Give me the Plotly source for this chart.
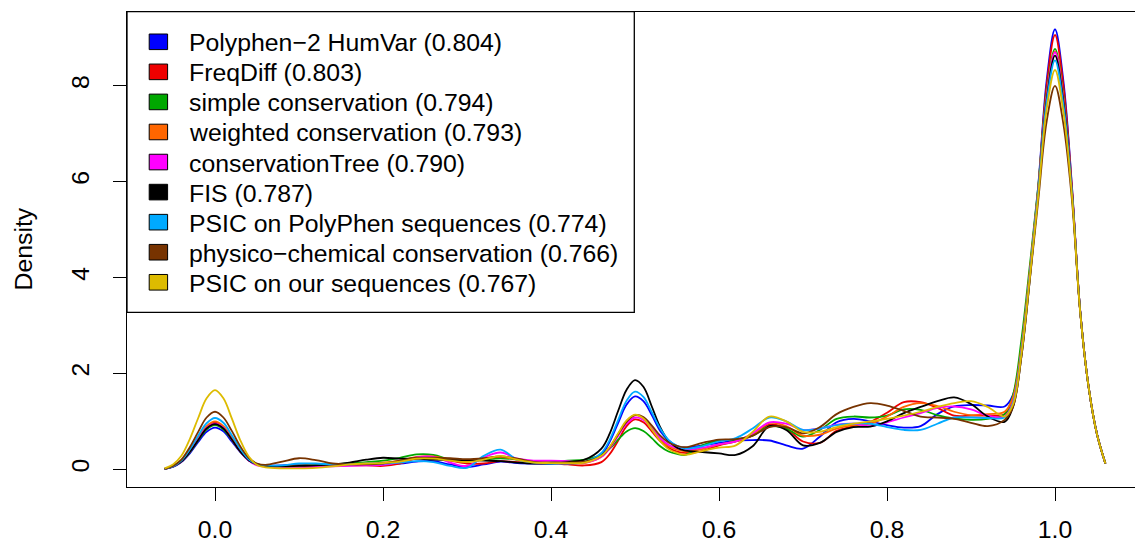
import plotly.graph_objects as go

# ---------------- data ----------------
X_GRID = [-0.06, -0.05, -0.04, -0.03, -0.02, -0.01, 0.00, 0.01, 0.02, 0.03, 0.04, 0.05, 0.06,
          0.08, 0.10, 0.12, 0.14, 0.16, 0.18, 0.20, 0.22, 0.24, 0.26, 0.28, 0.30, 0.32, 0.34,
          0.36, 0.38, 0.40, 0.42, 0.44, 0.46,
          0.47, 0.48, 0.49, 0.50, 0.51, 0.52, 0.53, 0.54, 0.55, 0.56,
          0.58, 0.60, 0.62, 0.64, 0.66, 0.68, 0.70, 0.72, 0.74, 0.76, 0.78, 0.80, 0.82, 0.84,
          0.86, 0.88, 0.90, 0.92, 0.94,
          0.95, 0.96, 0.97, 0.98, 0.99, 1.00, 1.01, 1.02, 1.03, 1.04, 1.05, 1.06]

polyphen = [0.01, 0.05, 0.15, 0.33, 0.57, 0.78, 0.87, 0.79, 0.58, 0.36, 0.19, 0.10, 0.08,
            0.08, 0.10, 0.09, 0.08, 0.10, 0.12, 0.12, 0.12, 0.16, 0.17, 0.10, 0.05, 0.10, 0.16,
            0.13, 0.12, 0.12, 0.13, 0.15, 0.31,
            0.58, 0.97, 1.35, 1.52, 1.42, 1.13, 0.80, 0.60, 0.48, 0.45,
            0.50, 0.55, 0.60, 0.61, 0.60, 0.50, 0.43, 0.68, 0.98, 1.05, 1.00, 0.92, 0.87, 0.90,
            1.15, 1.31, 1.34, 1.33, 1.31,
            1.55, 2.55, 4.10, 5.90, 8.10, 9.18, 8.10, 5.95, 3.30, 1.72, 0.74, 0.12]

freqdiff = [0.01, 0.06, 0.16, 0.37, 0.63, 0.87, 0.97, 0.88, 0.64, 0.39, 0.20, 0.10, 0.07,
            0.06, 0.06, 0.06, 0.07, 0.08, 0.08, 0.07, 0.12, 0.22, 0.24, 0.18, 0.12, 0.12, 0.17,
            0.15, 0.15, 0.13, 0.10, 0.08, 0.15,
            0.32, 0.60, 0.90, 1.04, 0.98, 0.79, 0.59, 0.45, 0.37, 0.34,
            0.38, 0.50, 0.58, 0.70, 0.93, 0.85, 0.58, 0.55, 0.80, 0.90, 0.99, 1.18, 1.40, 1.40,
            1.28, 1.12, 1.12, 1.12, 1.15,
            1.45, 2.50, 4.10, 5.85, 8.00, 9.06, 8.00, 5.92, 3.30, 1.72, 0.73, 0.12]

simple_cons = [0.01, 0.06, 0.16, 0.35, 0.60, 0.83, 0.92, 0.83, 0.61, 0.37, 0.19, 0.10, 0.07,
               0.06, 0.08, 0.09, 0.10, 0.12, 0.15, 0.18, 0.24, 0.31, 0.30, 0.20, 0.17, 0.20, 0.23,
               0.20, 0.15, 0.15, 0.18, 0.20, 0.30,
               0.43, 0.62, 0.79, 0.86, 0.80, 0.65, 0.48, 0.37, 0.32, 0.30,
               0.50, 0.60, 0.62, 0.70, 0.90, 0.85, 0.68, 0.82, 1.05, 1.10, 1.08, 1.12, 1.25, 1.24,
               1.13, 1.06, 1.03, 1.05, 1.15,
               1.55, 2.70, 4.25, 5.90, 7.85, 8.77, 7.80, 5.85, 3.30, 1.72, 0.73, 0.12]

weighted_cons = [0.01, 0.06, 0.17, 0.38, 0.65, 0.90, 1.00, 0.90, 0.66, 0.40, 0.20, 0.10, 0.07,
                 0.07, 0.08, 0.08, 0.09, 0.10, 0.12, 0.14, 0.18, 0.26, 0.27, 0.20, 0.17, 0.22, 0.26,
                 0.20, 0.15, 0.14, 0.13, 0.13, 0.26,
                 0.46, 0.73, 1.00, 1.13, 1.06, 0.85, 0.64, 0.48, 0.41, 0.37,
                 0.42, 0.52, 0.58, 0.72, 0.97, 0.90, 0.70, 0.72, 0.85, 0.92, 0.95, 1.10, 1.30, 1.38,
                 1.32, 1.20, 1.13, 1.15, 1.20,
                 1.50, 2.55, 4.15, 5.85, 7.80, 8.72, 7.75, 5.85, 3.30, 1.72, 0.73, 0.12]

cons_tree = [0.01, 0.06, 0.16, 0.36, 0.62, 0.86, 0.95, 0.86, 0.62, 0.37, 0.18, 0.08, 0.06,
             0.04, 0.04, 0.05, 0.06, 0.07, 0.08, 0.09, 0.15, 0.25, 0.26, 0.14, 0.07, 0.25, 0.35,
             0.22, 0.18, 0.18, 0.17, 0.14, 0.26,
             0.44, 0.70, 0.95, 1.08, 1.03, 0.85, 0.65, 0.51, 0.44, 0.41,
             0.45, 0.52, 0.58, 0.75, 0.98, 0.95, 0.82, 0.85, 0.93, 0.95, 0.90, 0.98, 1.08, 1.17,
             1.28, 1.31, 1.25, 1.12, 1.10,
             1.40, 2.45, 4.05, 5.80, 7.75, 8.70, 7.72, 5.85, 3.30, 1.72, 0.73, 0.12]

fis = [0.01, 0.06, 0.16, 0.36, 0.61, 0.85, 0.94, 0.85, 0.62, 0.37, 0.19, 0.10, 0.07,
       0.06, 0.07, 0.08, 0.10, 0.14, 0.20, 0.24, 0.22, 0.22, 0.20, 0.19, 0.19, 0.18, 0.17,
       0.14, 0.12, 0.12, 0.15, 0.20, 0.43,
       0.75, 1.22, 1.66, 1.86, 1.72, 1.31, 0.88, 0.59, 0.45, 0.39,
       0.36, 0.33, 0.30, 0.48, 0.90, 0.82, 0.50, 0.55, 0.78, 0.88, 0.89, 1.00, 1.17, 1.30,
       1.42, 1.50, 1.36, 1.10, 0.99,
       1.30, 2.35, 3.95, 5.75, 7.70, 8.63, 7.68, 5.83, 3.30, 1.72, 0.73, 0.12]

psic_pp = [0.01, 0.06, 0.18, 0.41, 0.70, 0.96, 1.07, 0.97, 0.71, 0.43, 0.21, 0.11, 0.08,
           0.08, 0.12, 0.12, 0.10, 0.10, 0.12, 0.12, 0.14, 0.17, 0.15, 0.07, 0.03, 0.28, 0.41,
           0.20, 0.14, 0.12, 0.12, 0.15, 0.34,
           0.62, 1.03, 1.43, 1.62, 1.51, 1.19, 0.85, 0.61, 0.49, 0.43,
           0.48, 0.58, 0.65, 0.85, 1.08, 1.00, 0.82, 0.85, 0.92, 0.95, 0.95, 0.88, 0.82, 0.82,
           0.95, 1.08, 1.08, 1.07, 1.08,
           1.38, 2.45, 4.05, 5.78, 7.65, 8.53, 7.60, 5.80, 3.30, 1.72, 0.73, 0.12]

physchem = [0.01, 0.07, 0.20, 0.46, 0.78, 1.08, 1.20, 1.08, 0.80, 0.48, 0.24, 0.12, 0.09,
            0.16, 0.23, 0.19, 0.12, 0.10, 0.10, 0.12, 0.18, 0.24, 0.24, 0.23, 0.21, 0.23, 0.27,
            0.22, 0.15, 0.14, 0.14, 0.16, 0.28,
            0.46, 0.73, 0.99, 1.13, 1.09, 0.91, 0.70, 0.56, 0.49, 0.46,
            0.55, 0.62, 0.63, 0.70, 0.88, 0.88, 0.75, 0.88, 1.15, 1.30, 1.38, 1.33, 1.22, 1.10,
            1.08, 1.05, 0.97, 0.90, 1.03,
            1.30, 2.35, 3.95, 5.60, 7.25, 8.00, 7.20, 5.65, 3.28, 1.72, 0.73, 0.12]

psic_ours = [0.02, 0.10, 0.28, 0.63, 1.07, 1.48, 1.65, 1.48, 1.06, 0.61, 0.27, 0.09, 0.04,
             0.02, 0.02, 0.03, 0.06, 0.10, 0.12, 0.13, 0.16, 0.22, 0.22, 0.18, 0.15, 0.20, 0.28,
             0.20, 0.14, 0.13, 0.13, 0.14, 0.28,
             0.47, 0.75, 1.02, 1.14, 1.06, 0.83, 0.59, 0.42, 0.34, 0.30,
             0.38, 0.45, 0.50, 0.78, 1.10, 1.00, 0.78, 0.78, 0.88, 0.95, 1.00, 1.05, 1.12, 1.20,
             1.30, 1.38, 1.42, 1.30, 1.10,
             1.35, 2.40, 4.00, 5.70, 7.50, 8.33, 7.45, 5.75, 3.28, 1.72, 0.73, 0.12]

SERIES_NAMES = ["Polyphen\u22122 HumVar (0.804)", "FreqDiff (0.803)", "simple conservation (0.794)",
                "weighted conservation (0.793)", "conservationTree (0.790)", "FIS (0.787)",
                "PSIC on PolyPhen sequences (0.774)", "physico\u2212chemical conservation (0.766)",
                "PSIC on our sequences (0.767)"]
SERIES_VALUES = [polyphen, freqdiff, simple_cons, weighted_cons, cons_tree, fis,
                 psic_pp, physchem, psic_ours]
COLORS = ["#0000FF", "#EE0000", "#00A800", "#FF6600", "#FF00FF", "#000000",
          "#00AAFF", "#773300", "#DDBB00"]

X_TICKS = [0.0, 0.2, 0.4, 0.6, 0.8, 1.0]
X_TICKTEXT = ["0.0", "0.2", "0.4", "0.6", "0.8", "1.0"]
Y_TICKS = [0, 2, 4, 6, 8]

for v in SERIES_VALUES:
    assert len(v) == len(X_GRID), len(v)

# ---------------- figure ----------------
W, H = 1135, 545
ML, MR, MT, MB = 127, 0, 12, 58
PW, PH = W - ML - MR, H - MT - MB
FONT = "Liberation Sans, Arial, Helvetica, sans-serif"
FS = 24.8


def px_x(px):
    return (px - ML) / PW


def px_y(py):
    return (H - MB - py) / PH


fig = go.Figure()
for name, col, ys in zip(SERIES_NAMES, COLORS, SERIES_VALUES):
    fig.add_trace(go.Scatter(x=X_GRID, y=ys, mode="lines", name=name,
                             line=dict(color=col, width=1.8, shape="spline", smoothing=1.0),
                             showlegend=False, hoverinfo="skip"))

shapes = []
annotations = []
# legend box
shapes.append(dict(type="rect", xref="paper", yref="paper",
                   x0=px_x(127), x1=px_x(634.3), y0=px_y(312.3), y1=px_y(11.7),
                   line=dict(color="black", width=1.3), fillcolor="white", layer="above"))
for i, (name, col) in enumerate(zip(SERIES_NAMES, COLORS)):
    cy = 41.8 + 30.06 * i
    shapes.append(dict(type="rect", xref="paper", yref="paper",
                       x0=px_x(149.2), x1=px_x(167.6), y0=px_y(cy + 7.8), y1=px_y(cy - 7.8),
                       line=dict(color="black", width=1), fillcolor=col, layer="above"))
    annotations.append(dict(text=name, xref="paper", yref="paper", x=px_x(187), y=px_y(cy + 1),
                            xanchor="left", yanchor="middle", showarrow=False,
                            font=dict(family=FONT, size=FS, color="black")))

annotations.append(dict(text="Density", xref="paper", yref="paper", x=px_x(23), y=0.5,
                        xanchor="center", yanchor="middle", textangle=-90, showarrow=False,
                        font=dict(family=FONT, size=FS, color="black")))

fig.update_layout(
    width=W, height=H,
    margin=dict(l=ML, r=MR, t=MT, b=MB, pad=0),
    paper_bgcolor="white", plot_bgcolor="white",
    font=dict(family=FONT, size=FS, color="black"),
    shapes=shapes, annotations=annotations,
    showlegend=False,
    xaxis=dict(range=[(127 - 215) / 840, (1135 - 215) / 840], tickvals=X_TICKS, ticktext=X_TICKTEXT,
               ticks="outside", ticklen=13, tickwidth=1.3, tickcolor="black",
               showline=True, linecolor="black", linewidth=1.3, mirror=True,
               showgrid=False, zeroline=False, automargin=False,
               tickfont=dict(family=FONT, size=FS, color="black"), ticklabelstandoff=7),
    yaxis=dict(range=[-0.37, 9.54], tickvals=Y_TICKS, tickangle=-90,
               ticks="outside", ticklen=13, tickwidth=1.3, tickcolor="black",
               showline=True, linecolor="black", linewidth=1.3,
               showgrid=False, zeroline=False, automargin=False,
               tickfont=dict(family=FONT, size=FS, color="black"), ticklabelstandoff=14),
)

fig.write_html("out.html")
